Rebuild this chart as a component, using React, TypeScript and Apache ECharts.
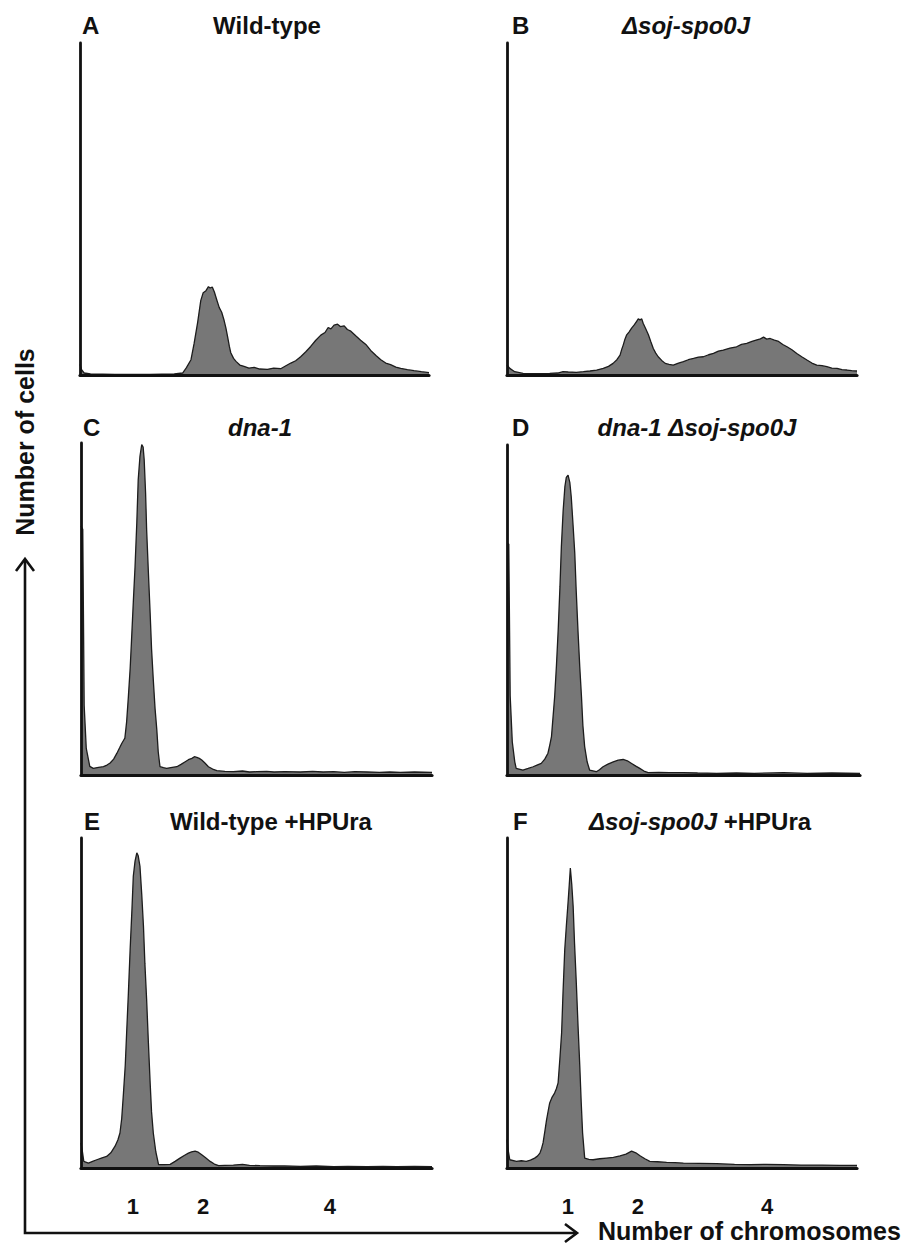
import React, { useEffect, useRef } from "react";
import * as echarts from "echarts";

// DNA content histograms (x: relative fluorescence channel 0-100, y: % of full scale)
const wildType: number[][] = [
  [0, 3.2], [0.5, 1.5], [1.2, 0.6], [3, 0.3], [10, 0.2], [20, 0.2], [27, 0.3], [29.4, 0.6], [30.5, 2.2],
  [31.8, 4.6], [32.7, 9.5], [33.7, 15.8], [34.6, 22.4], [35.3, 24.8], [36.1, 25.4], [36.8, 26.6], [37.3, 26.2],
  [37.9, 26.5], [38.5, 25.0], [39.2, 22.6], [39.9, 20.3], [40.6, 18.9], [41.3, 16.4], [41.8, 14.2], [42.3, 11.5],
  [42.8, 8.6], [43.2, 6.7], [44.0, 5.0], [44.7, 4.1], [45.8, 3.0], [47.0, 2.6], [48.4, 2.1], [49.9, 2.3],
  [51.5, 1.8], [53.7, 1.7], [55.5, 2.1], [57.5, 1.9], [59.0, 2.8], [60.4, 3.6], [61.8, 4.3], [63.3, 5.6],
  [64.7, 7.0], [66.1, 8.6], [67.5, 10.4], [69.0, 12.0], [70.2, 12.8], [71.1, 14.3], [71.9, 13.9], [72.8, 15.0],
  [73.8, 15.3], [74.6, 14.6], [75.7, 14.8], [76.6, 13.7], [77.6, 13.2], [79.0, 11.8], [80.4, 10.5], [81.9, 9.2],
  [83.3, 7.4], [84.8, 5.9], [86.2, 4.6], [87.6, 3.6], [89.0, 3.1], [90.5, 2.4], [91.9, 2.0], [93.8, 1.6],
  [95.7, 1.3], [97.8, 1.0], [100, 0.7],
];

const sojSpo0J: number[][] = [
  [0, 3.0], [0.8, 2.0], [2.2, 1.0], [4.6, 0.5], [8, 0.4], [12.2, 0.5], [14.5, 0.6], [16.0, 1.0], [17.5, 0.9],
  [19.8, 0.8], [21.8, 1.0], [23.7, 1.2], [25.6, 1.5], [27.5, 2.0], [29.0, 2.6], [30.3, 3.5], [31.4, 4.6],
  [32.3, 6.0], [32.8, 7.8], [33.2, 9.0], [33.7, 10.8], [34.2, 12.1], [34.9, 13.0], [35.6, 14.1], [36.3, 15.0],
  [37.0, 16.1], [37.5, 16.9], [38.0, 16.6], [38.5, 16.9], [38.9, 15.6], [39.7, 13.8], [40.4, 12.1], [41.1, 10.0],
  [41.8, 8.0], [42.5, 6.6], [43.2, 5.5], [44.2, 4.4], [45.2, 3.5], [46.3, 3.2], [47.5, 3.0], [49.0, 3.6],
  [50.4, 4.0], [51.8, 4.6], [53.3, 5.0], [54.7, 5.4], [56.1, 5.5], [57.6, 6.1], [59.0, 6.5], [60.4, 7.2],
  [61.8, 7.5], [63.7, 8.1], [65.6, 8.5], [67.0, 9.2], [68.5, 9.5], [70.0, 10.1], [71.4, 10.6], [72.4, 10.9],
  [73.3, 11.4], [74.2, 10.8], [75.2, 11.0], [76.4, 10.5], [77.6, 10.1], [78.8, 9.2], [80.0, 8.5], [81.4, 7.6],
  [82.8, 6.5], [84.2, 5.5], [85.7, 4.5], [87.1, 3.6], [88.5, 3.0], [90.0, 2.8], [91.4, 2.5], [92.8, 2.1],
  [94.3, 2.0], [95.7, 1.6], [97.1, 1.5], [98.5, 1.3], [100, 1.2],
];

const dna1: number[][] = [
  [0, 75], [0.5, 74], [0.9, 21], [1.5, 8], [2.5, 2.6], [3.5, 2.0], [5.0, 2.3], [6.4, 2.5], [7.4, 3.0], [8.3, 3.6],
  [9.3, 4.8], [10.2, 6.5], [11.0, 8.2], [11.6, 9.5], [12.1, 10.4], [12.5, 11.1], [13.0, 16], [13.5, 23.6],
  [14.0, 32], [14.4, 40.7], [14.9, 52], [15.4, 62.8], [15.9, 76], [16.3, 88.9], [16.8, 96], [17.3, 99.5],
  [17.7, 98.8], [18.0, 95], [18.4, 85], [18.7, 73.9], [19.2, 61], [19.7, 48.7], [20.1, 38], [20.6, 28.6],
  [21.1, 20], [21.6, 13.6], [22.0, 7], [22.5, 2.5], [23.5, 2.2], [24.4, 2.0], [26.0, 2.3], [27.3, 2.5],
  [28.5, 3.2], [29.7, 4.0], [30.6, 4.6], [31.6, 5.0], [32.3, 5.5], [33.0, 5.3], [33.7, 5.0], [34.4, 4.5],
  [35.3, 3.6], [36.3, 2.5], [37.5, 1.8], [38.7, 1.3], [41, 1.1], [43.4, 1.0], [46, 1.2], [48, 0.9], [50, 1.0],
  [52.9, 1.1], [55, 0.9], [58, 1.0], [62.5, 0.9], [66, 1.1], [69, 0.9], [72.0, 1.0], [75, 0.8], [78, 1.0],
  [81.5, 0.9], [85, 0.8], [88, 0.9], [91.0, 0.8], [95, 0.9], [100, 0.8],
];

const dna1SojSpo0J: number[][] = [
  [0, 70], [0.5, 70], [0.9, 24], [1.5, 10], [2.2, 4], [2.6, 2.0], [4.5, 1.5], [6.0, 2.0], [7.4, 2.5], [8.5, 3.0],
  [9.7, 3.5], [10.7, 4.8], [11.6, 6.6], [12.1, 9], [12.6, 11.6], [13.0, 17], [13.5, 23.7], [14.0, 33],
  [14.5, 43.9], [15.0, 57], [15.4, 69.2], [15.9, 80], [16.4, 87.4], [16.8, 90.2], [17.3, 90.9], [17.8, 88.6],
  [18.2, 84.3], [18.7, 76], [19.2, 67.2], [19.6, 56], [20.1, 43.9], [20.6, 33], [21.1, 23.7], [21.5, 15],
  [22.0, 8.6], [22.7, 4], [23.4, 1.5], [25.3, 1.0], [26.2, 1.6], [27.2, 2.5], [28.6, 3.3], [30.1, 4.0],
  [31.5, 4.5], [32.9, 4.7], [34.1, 4.3], [35.3, 3.5], [36.5, 2.7], [37.6, 2.0], [38.8, 1.2], [40.0, 0.7],
  [43, 0.8], [46, 0.7], [49.9, 0.7], [54, 0.6], [59.4, 0.5], [65, 0.6], [70, 0.5], [78.3, 0.7], [85, 0.5],
  [92, 0.6], [100, 0.5],
];

const wildTypeHPUra: number[][] = [
  [0, 7.6], [0.4, 5], [0.8, 2.0], [2.1, 1.5], [3.3, 2.0], [4.5, 2.5], [6.0, 3.1], [7.3, 3.5], [8.5, 4.6],
  [9.7, 6.6], [10.5, 8.5], [11.1, 10.6], [11.6, 15], [12.1, 22.7], [12.6, 31], [13.0, 40.9], [13.5, 53],
  [14.0, 66.2], [14.5, 78], [14.9, 88.4], [15.4, 93], [15.9, 95.5], [16.3, 94.6], [16.8, 91.4], [17.3, 83],
  [17.8, 73.2], [18.2, 62], [18.7, 51.0], [19.2, 38], [19.7, 25.8], [20.1, 17], [20.6, 10.6], [21.3, 5],
  [22.1, 1.0], [23.7, 1.0], [25.4, 1.1], [26.8, 2.0], [28.2, 3.0], [29.4, 3.8], [30.6, 4.5], [31.5, 4.9],
  [32.5, 5.1], [33.4, 4.8], [34.4, 4.0], [35.6, 3.0], [36.8, 2.0], [38.0, 1.2], [39.2, 0.7], [41, 0.8],
  [43.4, 0.9], [46, 1.1], [48, 0.8], [51.0, 0.7], [55, 0.6], [58, 0.6], [62.5, 0.5], [67, 0.6], [72, 0.4],
  [76, 0.5], [81.5, 0.4], [86, 0.5], [90, 0.4], [95, 0.5], [100, 0.4],
];

const sojSpo0JHPUra: number[][] = [
  [0, 8.6], [0.4, 5], [0.8, 2.5], [2.7, 2.0], [4.1, 2.2], [5.5, 2.0], [6.7, 2.4], [7.9, 3.0], [8.7, 3.6],
  [9.4, 4.5], [9.9, 6], [10.3, 7.6], [10.8, 11], [11.3, 14.6], [11.8, 17.5], [12.2, 19.7], [12.9, 21.5],
  [13.6, 22.7], [14.1, 24], [14.6, 25.8], [15.1, 33], [15.6, 40.9], [16.0, 53], [16.5, 66.2], [17.0, 74],
  [17.5, 81.3], [17.8, 86], [18.1, 90.9], [18.5, 86], [18.9, 79.3], [19.3, 68], [19.8, 56.1], [20.3, 43],
  [20.8, 30.8], [21.2, 20], [21.6, 10.6], [22.2, 3.0], [23.4, 2.6], [24.6, 2.5], [26.5, 2.8], [28.4, 3.0],
  [30.4, 3.2], [32.3, 3.7], [34.0, 4.2], [35.6, 5.1], [36.8, 4.6], [38.0, 3.7], [39.4, 2.8], [40.8, 2.0],
  [43, 1.9], [45.6, 1.7], [48, 1.6], [50.4, 1.5], [55, 1.4], [59.9, 1.3], [65, 1.1], [69.5, 1.0], [74, 1.1],
  [79.0, 1.0], [84, 0.9], [90, 0.9], [95, 0.8], [100, 0.8],
];

const panelLetters = ["A", "B", "C", "D", "E", "F"];
const panelTitles = [
  "Wild-type",
  "{i|Δsoj-spo0J}",
  "{i|dna-1}",
  "{i|dna-1 Δsoj-spo0J}",
  "Wild-type +HPUra",
  "{i|Δsoj-spo0J} +HPUra",
];
const panelSeries = [wildType, sojSpo0J, dna1, dna1SojSpo0J, wildTypeHPUra, sojSpo0JHPUra];

// chromosome-number tick labels and the channel they sit at (bottom row only)
const chromosomeTicks = ["1", "2", "4"];
const chromosomeChannelsE = [14.8, 34.8, 70.9];
const chromosomeChannelsF = [17.4, 37.4, 74.3];

const FONT = "Arial, 'Liberation Sans', Helvetica, sans-serif";

// grid boxes: [left, top, width, height]
const GRIDS = [
  [80, 43, 349, 332],
  [507, 43, 350, 332],
  [81, 443, 351, 332],
  [507, 445, 353, 330],
  [81, 838, 351, 330],
  [507, 838, 350, 330],
];
// letter x, title centre x, text centre y
const LABEL_POS = [
  [82, 267, 25],
  [512, 686, 25],
  [83, 260, 427],
  [512, 697, 427],
  [84, 271, 821],
  [513, 700, 821],
];

function buildOption() {
  const tickMap = (channels: number[]) => {
    return (v: number) => {
      const idx = channels.findIndex((c) => Math.abs(c - v) < 1e-6);
      return idx >= 0 ? chromosomeTicks[idx] : "";
    };
  };

  const grid = GRIDS.map(([l, t, w, h]) => ({ left: l, top: t, width: w, height: h, outerBoundsMode: "none" }));

  const xAxis = GRIDS.map((_, i) => {
    const channels = i === 4 ? chromosomeChannelsE : i === 5 ? chromosomeChannelsF : null;
    return {
      type: "value",
      gridIndex: i,
      min: 0,
      max: 100,
      z: 5,
      axisLine: { show: true, onZero: false, lineStyle: { color: "#111", width: 3.2 } },
      axisTick: { show: false },
      splitLine: { show: false },
      axisLabel: channels
        ? {
            show: true,
            customValues: channels,
            formatter: tickMap(channels),
            margin: 27,
            color: "#111",
            fontFamily: FONT,
            fontWeight: "bold",
            fontSize: 22,
          }
        : { show: false },
    };
  });

  const yAxis = GRIDS.map((_, i) => ({
    type: "value",
    gridIndex: i,
    min: 0,
    max: 100,
    z: 5,
    axisLine: { show: true, onZero: false, lineStyle: { color: "#111", width: 2.8 } },
    axisTick: { show: false },
    axisLabel: { show: false },
    splitLine: { show: false },
  }));

  const series = panelSeries.map((data, i) => ({
    type: "line",
    xAxisIndex: i,
    yAxisIndex: i,
    data,
    showSymbol: false,
    symbol: "none",
    z: 2,
    lineStyle: { color: "#1c1c1c", width: 1.3 },
    areaStyle: { color: "#777777", opacity: 1 },
  }));

  const rich = {
    i: { fontStyle: "italic", fontWeight: "bold", fontSize: 24, fontFamily: FONT, fill: "#111" },
  };

  const graphic: any[] = [];
  LABEL_POS.forEach(([lx, tx, ty], i) => {
    graphic.push({
      type: "text",
      x: lx,
      y: ty,
      style: {
        text: panelLetters[i],
        fill: "#111",
        font: `bold 24px ${FONT}`,
        textAlign: "left",
        textVerticalAlign: "middle",
        align: "left",
        verticalAlign: "middle",
      },
    });
    graphic.push({
      type: "text",
      x: tx,
      y: ty,
      style: {
        text: panelTitles[i],
        rich,
        fill: "#111",
        font: `bold 24px ${FONT}`,
        textAlign: "center",
        textVerticalAlign: "middle",
        align: "center",
        verticalAlign: "middle",
      },
    });
  });

  // overall axes with arrow heads
  const arrowStyle = { stroke: "#111", lineWidth: 2.6, fill: "none" };
  graphic.push({
    type: "polyline",
    shape: { points: [[25, 560], [25, 1233], [577, 1233]] },
    style: arrowStyle,
  });
  graphic.push({
    type: "polyline",
    shape: { points: [[16, 571], [25, 559], [34, 571]] },
    style: arrowStyle,
  });
  graphic.push({
    type: "polyline",
    shape: { points: [[565, 1224], [577, 1233], [565, 1242]] },
    style: arrowStyle,
  });
  graphic.push({
    type: "text",
    x: 25,
    y: 442,
    rotation: Math.PI / 2,
    style: {
      text: "Number of cells",
      fill: "#111",
      font: `bold 25px ${FONT}`,
      textAlign: "center",
      textVerticalAlign: "middle",
      align: "center",
      verticalAlign: "middle",
    },
  });
  graphic.push({
    type: "text",
    x: 598,
    y: 1231,
    style: {
      text: "Number of chromosomes",
      fill: "#111",
      font: `bold 25px ${FONT}`,
      textAlign: "left",
      textVerticalAlign: "middle",
      align: "left",
      verticalAlign: "middle",
    },
  });

  return {
    animation: false,
    backgroundColor: "#ffffff",
    grid,
    xAxis,
    yAxis,
    series,
    graphic,
  };
}

export default function App() {
  const ref = useRef<HTMLDivElement>(null);
  useEffect(() => {
    if (!ref.current) return;
    const chart = echarts.init(ref.current, undefined, { renderer: "svg" });
    chart.setOption(buildOption() as any);
    return () => chart.dispose();
  }, []);
  return (
    <div
      ref={ref}
      style={{ position: "absolute", left: 0, top: 0, width: 911, height: 1247, background: "#fff" }}
    />
  );
}
